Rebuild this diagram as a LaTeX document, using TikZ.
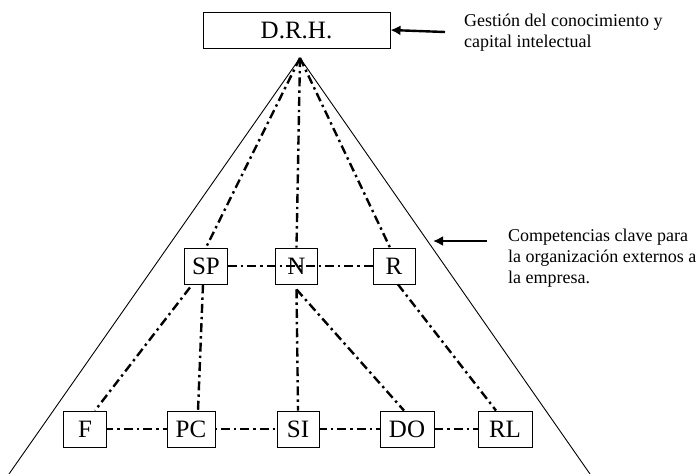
\documentclass[tikz,border=0pt]{standalone}
\usepackage{fontspec}
\setmainfont{Liberation Serif}
\usetikzlibrary{arrows.meta}
\begin{document}
\begin{tikzpicture}[x=1pt,y=-1pt,
  box/.style={draw, line width=0.9pt, fill=white, minimum height=36pt, inner sep=0pt,
    font=\fontsize{25}{27}\selectfont},
  link/.style={line width=2.4pt, dash pattern=on 9pt off 4pt on 2.4pt off 4pt},
  side/.style={line width=0.9pt},
  pointer/.style={line width=2.4pt, -{Latex[length=10pt,width=10pt]}},
  note/.style={anchor=north west, align=left, inner sep=0pt,
    font=\fontsize{18}{21}\selectfont}]
\useasboundingbox (0,0) rectangle (699,474);

% apex and the two sides of the pyramid
\coordinate (apex) at (300,58);
\coordinate (bl) at (9,474);
\coordinate (br) at (590,474);
\draw[side] (bl) -- (apex) -- (br);

% top box
\node[box, minimum width=187pt] (drh) at (296.5,30) {D.R.H.};

% middle row
\node[box, minimum width=43pt] (sp) at (206,266) {SP};
\node[box, minimum width=42pt] (n)  at (296.5,266) {N};
\node[box, minimum width=42pt] (r)  at (394,266) {R};

% bottom row, its link running behind the boxes
\draw[link] (85,429) -- (505,429);
\node[box, minimum width=43pt] (f)  at (85,429) {F};
\node[box, minimum width=48pt] (pc) at (191,429) {PC};
\node[box, minimum width=42pt] (si) at (298,429) {SI};
\node[box, minimum width=54pt] (do) at (407,429) {DO};
\node[box, minimum width=54pt] (rl) at (505,429) {RL};

% links from the apex
\draw[link] (apex) -- (sp.north);
\draw[link] (apex) -- (n.north);
\draw[link] (apex) -- ([xshift=-4pt]r.north);

% middle row link, crossing N
\draw[link] (sp.east) -- (r.west);

% links down to the bottom row
\coordinate (nb) at ([yshift=-5pt]n.south);
\draw[link] ([xshift=-16pt,yshift=-3pt]sp.south) -- ([xshift=10pt]f.north);
\draw[link] ([xshift=-3pt]sp.south) -- ([xshift=7pt]pc.north);
\draw[link] (nb) -- (si.north);
\draw[link] (nb) -- ([xshift=-3pt]do.north);
\draw[link] ([xshift=4pt]r.south) -- ([xshift=-9pt]rl.north);

% notes with their arrows
\node[note] (t1) at (464,14) {Gestión del conocimiento y\\capital intelectual};
\coordinate (a1) at (445,32);
\draw[pointer] (a1) -- (drh.east);

\node[note] (t2) at (508,229) {Competencias clave para\\la organización externos a\\la empresa.};
\coordinate (a2) at (487,241);
\coordinate (a2e) at (433,241);
\draw[pointer] (a2) -- (a2e);
\end{tikzpicture}
\end{document}
